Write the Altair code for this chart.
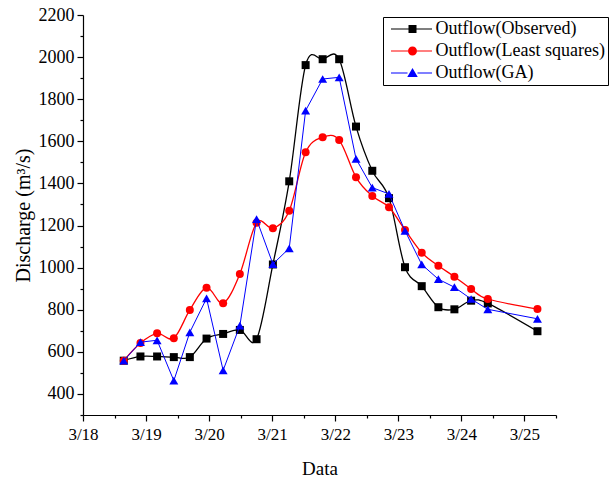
import altair as alt
import pandas as pd

# ---- data ----
days = [18.646, 18.911, 19.175, 19.44, 19.694, 19.959, 20.222, 20.487, 20.752,
        21.011, 21.27, 21.53, 21.80, 22.062, 22.329, 22.587, 22.852, 23.106,
        23.371, 23.635, 23.889, 24.154, 24.419, 25.206]
observed = [558, 578, 578, 575, 575, 663, 685, 704, 660, 1015, 1410, 1962, 1990,
            1990, 1670, 1460, 1330, 1002, 912, 812, 802, 843, 830, 698]
least_squares = [558, 642, 688, 665, 799, 905, 831, 970, 1213, 1187, 1270, 1548,
                 1619, 1606, 1429, 1340, 1287, 1179, 1071, 1009, 957, 899, 851, 803]
ga = [558, 646, 655, 463, 693, 854, 512, 724, 1230, 1017, 1092, 1746, 1896, 1904,
      1517, 1380, 1350, 1175, 1015, 945, 907, 851, 802, 757]

series_names = ["Outflow(Observed)", "Outflow(Least squares)", "Outflow(GA)"]
series_colors = ["#000000", "#ff0000", "#0000ff"]
marker_shapes = ["square", "circle", "triangle-up"]
interpolations = ["cardinal", "cardinal", "linear"]
line_widths = [1.3, 1.3, 1.0]

x_tick_values = [18, 18.5, 19, 19.5, 20, 20.5, 21, 21.5, 22, 22.5, 23, 23.5,
                 24, 24.5, 25, 25.5]
y_tick_values = list(range(300, 2201, 100))

# legend symbols: line with marker in the middle (1 unit = 5 px at size 100)
legend_paths = [
    "M-4.3,-0.12H-0.8V0.12H-4.3Z M0.8,-0.12H3.9V0.12H0.8Z M-0.8,-0.8H0.8V0.8H-0.8Z",
    "M-4.3,-0.12H-0.9V0.12H-4.3Z M0.9,-0.12H3.9V0.12H0.9Z M-0.9,0A0.9,0.9 0 1,0 0.9,0A0.9,0.9 0 1,0 -0.9,0Z",
    "M-4.3,-0.12H-1V0.12H-4.3Z M1,-0.12H3.9V0.12H1Z M0,-1L1.05,0.8L-1.05,0.8Z",
]

rows = []
for name, vals in zip(series_names, [observed, least_squares, ga]):
    for d, v in zip(days, vals):
        rows.append({"series": name, "day": d, "value": v})
df = pd.DataFrame(rows)

FONT = "Liberation Serif"

x_enc = alt.X(
    "day:Q",
    scale=alt.Scale(domain=[18, 25.5], nice=False, zero=False),
    axis=alt.Axis(
        values=x_tick_values,
        labelExpr="datum.value % 1 == 0 ? '3/' + datum.value : ''",
        title="Data",
        titleFont=FONT, titleFontSize=19, titleFontWeight="normal",
        titlePadding=17,
        labelFont=FONT, labelFontSize=17, labelPadding=5,
        tickSize={"condition": {"test": "datum.value % 1 == 0", "value": 6}, "value": 3},
        grid=False, domainColor="black", tickColor="black", labelColor="black",
        titleColor="black", domainWidth=1.2, tickWidth=1.2,
        labelFlush=False, labelOverlap=False,
    ),
)
y_enc = alt.Y(
    "value:Q",
    scale=alt.Scale(domain=[300, 2200], nice=False, zero=False),
    axis=alt.Axis(
        values=y_tick_values,
        labelExpr="datum.value % 200 == 0 ? '' + datum.value : ''",
        title="Discharge (m³/s)",
        titleFont=FONT, titleFontSize=20, titleFontWeight="normal",
        titlePadding=5,
        labelFont=FONT, labelFontSize=18, labelPadding=3,
        tickSize={"condition": {"test": "datum.value % 200 == 0", "value": 6}, "value": 3},
        grid=False, domainColor="black", tickColor="black", labelColor="black",
        titleColor="black", domainWidth=1.2, tickWidth=1.2,
        labelFlush=False, labelOverlap=False,
    ),
)

base = alt.Chart(df)
layers = []
for name, col, shp, interp, lw in zip(series_names, series_colors, marker_shapes,
                                      interpolations, line_widths):
    sub = base.transform_filter(alt.datum.series == name)
    layers.append(sub.mark_line(color=col, strokeWidth=lw, interpolate=interp)
                  .encode(x=x_enc, y=y_enc))
    layers.append(sub.mark_point(shape=shp, filled=True, color=col, opacity=1,
                                 size=64 if shp != "triangle-up" else 80,
                                 strokeWidth=0)
                  .encode(x=x_enc, y=y_enc))

legend_props = dict(
    orient="none", legendX=300, legendY=2, title=None,
    labelFont=FONT, labelFontSize=18, labelLimit=0, labelOffset=14,
    labelColor="black", symbolOffset=17.5,
    padding=3, rowPadding=4, strokeColor="black", fillColor="white",
    symbolStrokeWidth=0, symbolSize=100, symbolOpacity=1, cornerRadius=0,
)
legend_layer = base.transform_filter("false").mark_point(
    filled=True, opacity=1, size=100
).encode(
    x=x_enc, y=y_enc,
    color=alt.Color("series:N",
                    scale=alt.Scale(domain=series_names, range=series_colors),
                    legend=alt.Legend(**legend_props)),
    shape=alt.Shape("series:N",
                    scale=alt.Scale(domain=series_names, range=legend_paths),
                    legend=alt.Legend(**legend_props)),
)
layers.append(legend_layer)

chart = alt.layer(*layers).properties(
    width=473, height=400,
    autosize="none",
    padding={"left": 83, "top": 15, "right": 54, "bottom": 66},
    background="white",
).configure_view(stroke=None)

chart.save("out.html", embed_options={"renderer": "svg", "actions": False})
